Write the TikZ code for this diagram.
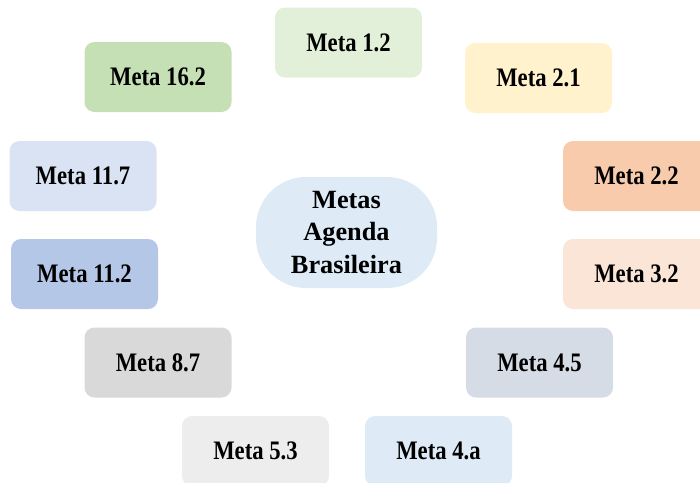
\documentclass[tikz,border=0pt]{standalone}
\usepackage{fontspec}
\setmainfont{Liberation Serif}
\newfontfamily\boxfont[FakeStretch=0.85]{Liberation Serif}
\definecolor{cA}{HTML}{E2F0D9}
\definecolor{cB}{HTML}{C5E0B4}
\definecolor{cC}{HTML}{FFF2CC}
\definecolor{cD}{HTML}{DAE3F3}
\definecolor{cE}{HTML}{F8CBAD}
\definecolor{cF}{HTML}{B4C7E7}
\definecolor{cG}{HTML}{FBE5D6}
\definecolor{cH}{HTML}{D9D9D9}
\definecolor{cI}{HTML}{D6DCE5}
\definecolor{cJ}{HTML}{EDEDED}
\definecolor{cK}{HTML}{DEEBF7}
\tikzset{
  metabox/.style={rectangle, rounded corners=10pt, minimum width=147pt, minimum height=70pt,
    inner sep=0pt, font=\boxfont\fontsize{26.7}{30}\selectfont\bfseries, text=black},
  hubbox/.style={rectangle, rounded corners=50pt, minimum width=181pt, minimum height=111pt,
    inner sep=0pt, fill=cK, align=center, font=\fontsize{26.3}{32.5}\selectfont\bfseries}
}
\begin{document}
\begin{tikzpicture}[x=1pt,y=-1pt]
\useasboundingbox (0,0) rectangle (700,482);
\clip (0,0) rectangle (700,482);
\node[metabox, fill=cA] (m12) at (348.5,42.5) {Meta 1.2};
\node[metabox, fill=cB] (m162) at (158,77) {Meta 16.2};
\node[metabox, fill=cC] (m21) at (538.5,78) {Meta 2.1};
\node[metabox, fill=cD] (m117) at (83,176) {Meta 11.7};
\node[metabox, fill=cE] (m22) at (636.5,176) {Meta 2.2};
\node[metabox, fill=cF] (m112) at (84.5,274) {Meta 11.2};
\node[metabox, fill=cG] (m32) at (636.5,274) {Meta 3.2};
\node[metabox, fill=cH] (m87) at (158,362.5) {Meta 8.7};
\node[metabox, fill=cI] (m45) at (539.5,362.5) {Meta 4.5};
\node[metabox, fill=cJ] (m53) at (255.5,451) {Meta 5.3};
\node[metabox, fill=cK] (m4a) at (438.5,451) {Meta 4.a};
\node[hubbox] (hub) at (346.5,232.5) {Metas\\Agenda\\Brasileira};
\end{tikzpicture}
\end{document}
